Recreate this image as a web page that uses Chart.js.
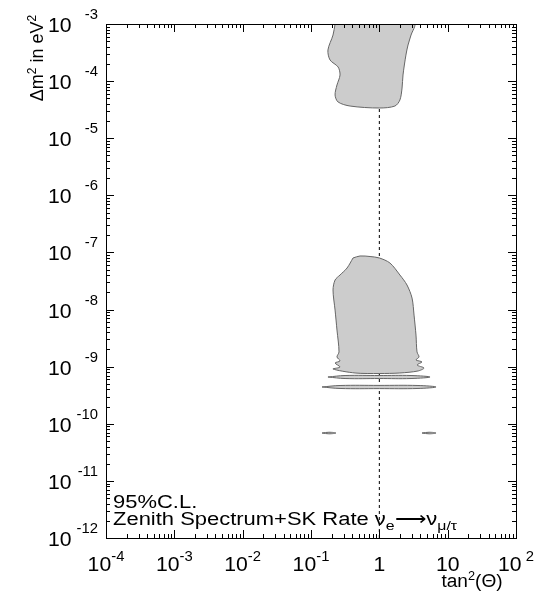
<!DOCTYPE html>
<html>
<head>
<meta charset="utf-8">
<script src="https://cdn.jsdelivr.net/npm/chart.js@4.4.1/dist/chart.umd.min.js"></script>
<style>
  body { margin: 0; background: #fff; }
  canvas { display: block; }
</style>
</head>
<body>
<canvas id="chart" width="542" height="601"></canvas>
<script>
// Axis ranges and tick labels
const xMin = 1e-4, xMax = 1e2;
const yMin = 1e-12, yMax = 1e-3;
const xTickValues = [1e-4, 1e-3, 1e-2, 1e-1, 1, 10, 100];
const xTickBase = ['10', '10', '10', '10', '1', '10', '10'];
const xTickSup = ['-4', '-3', '-2', '-1', '', '', ' 2'];
const yTickValues = [1e-3, 1e-4, 1e-5, 1e-6, 1e-7, 1e-8, 1e-9, 1e-10, 1e-11, 1e-12];
const yTickSup = ['-3', '-4', '-5', '-6', '-7', '-8', '-9', '-10', '-11', '-12'];

// Contours (tan^2 theta, delta m^2)
const upperX = [0.225, 0.210, 0.177, 0.190, 0.249, 0.266, 0.240, 0.225, 0.249, 0.373, 1.00, 1.69, 2.00, 2.15, 2.22, 2.45, 2.63, 2.91, 3.22, 0.225];
const upperY = [1e-3, 6.41e-4, 3.51e-4, 2.34e-4, 1.77e-4, 1.28e-4, 8.55e-5, 5.71e-5, 4.31e-5, 3.66e-5, 3.38e-5, 3.66e-5, 4.67e-5, 7.57e-5, 1.28e-4, 2.86e-4, 4.29e-4, 6.41e-4, 1e-3, 1e-3];

const lowerX = [0.412, 0.522, 0.731, 1.00, 1.43, 2.00, 2.54, 3.01, 3.22, 3.44, 3.56, 3.81, 3.44, 4.21, 3.56, 4.51, 3.68, 2.00, 1.00, 0.441, 0.210, 0.266, 0.225, 0.266, 0.240, 0.257, 0.240, 0.225, 0.210, 0.225, 0.266, 0.337, 0.412];
const lowerY = [8.0e-8, 8.67e-8, 8.49e-8, 8.0e-8, 6.53e-8, 4.03e-8, 2.69e-8, 1.59e-8, 8.0e-9, 3.58e-9, 1.81e-9, 1.48e-9, 1.31e-9, 1.21e-9, 1.07e-9, 9.48e-10, 8.4e-10, 7.75e-10, 7.59e-10, 7.75e-10, 9.1e-10, 9.86e-10, 1.16e-9, 1.26e-9, 1.48e-9, 1.81e-9, 4.38e-9, 9.8e-9, 2.2e-8, 3.29e-8, 4.03e-8, 5.34e-8, 8.0e-8];

const band1X = [0.177, 0.315, 1.00, 2.91, 5.52, 2.91, 1.00, 0.315, 0.177];
const band1Y = [6.59e-10, 7.0e-10, 7.0e-10, 7.0e-10, 6.59e-10, 6.2e-10, 6.2e-10, 6.2e-10, 6.59e-10];

const band2X = [0.145, 0.266, 1.00, 3.68, 6.76, 3.68, 1.00, 0.266, 0.145];
const band2Y = [4.41e-10, 4.68e-10, 4.7e-10, 4.68e-10, 4.41e-10, 4.15e-10, 4.13e-10, 4.15e-10, 4.41e-10];

const islandLeftX = [0.145, 0.183, 0.232, 0.183, 0.145];
const islandLeftY = [6.89e-11, 7.11e-11, 6.89e-11, 6.67e-11, 6.89e-11];
const islandRightX = [4.21, 5.34, 6.76, 5.34, 4.21];
const islandRightY = [6.89e-11, 7.11e-11, 6.89e-11, 6.67e-11, 6.89e-11];

// Maximal mixing line
const maxMixX = [1, 1];
const maxMixY = [1e-12, 1e-3];

const FONT = '"Liberation Sans", Arial, Helvetica, sans-serif';

function toPoints(xs, ys) {
    return xs.map((x, i) => ({x: x, y: ys[i]}));
}

function contour(xs, ys, tension) {
    return {
        data: toPoints(xs, ys),
        showLine: true,
        fill: 'shape',
        backgroundColor: '#cccccc',
        borderColor: '#666666',
        borderWidth: 1,
        pointRadius: 0,
        tension: tension
    };
}

// draw a row of text pieces [text, size, dy], stretched a bit sideways like the original
function drawRuns(ctx, runs, x, y, align, sx) {
    ctx.save();
    ctx.translate(x, y);
    ctx.scale(sx, 1);
    ctx.textAlign = 'left';
    ctx.textBaseline = 'alphabetic';
    ctx.fillStyle = '#000';
    let w = 0;
    runs.forEach(r => { ctx.font = r[1] + 'px ' + FONT; w += ctx.measureText(r[0]).width; });
    let cx = align === 'center' ? -w / 2 : (align === 'right' ? -w : 0);
    runs.forEach(r => {
        ctx.font = r[1] + 'px ' + FONT;
        ctx.fillText(r[0], cx, r[2]);
        cx += ctx.measureText(r[0]).width;
    });
    ctx.restore();
}

const framePlugin = {
    id: 'frame',
    afterDraw(chart) {
        const ctx = chart.ctx;
        const a = chart.chartArea;
        const xs = chart.scales.x, ys = chart.scales.y;
        ctx.save();
        ctx.strokeStyle = '#000';
        ctx.lineWidth = 1;
        ctx.strokeRect(a.left + 0.5, a.top + 0.5, a.right - a.left, a.bottom - a.top);

        // inward ticks
        ctx.beginPath();
        for (let d = -4; d < 2; d++) {
            for (let k = 1; k < 10; k++) {
                const px = Math.round(xs.getPixelForValue(k * Math.pow(10, d))) + 0.5;
                const len = k === 1 ? 8 : 4;
                ctx.moveTo(px, a.bottom); ctx.lineTo(px, a.bottom - len);
                ctx.moveTo(px, a.top); ctx.lineTo(px, a.top + len);
            }
        }
        for (let d = -12; d < -3; d++) {
            for (let k = 1; k < 10; k++) {
                const py = Math.round(ys.getPixelForValue(k * Math.pow(10, d))) + 0.5;
                const len = k === 1 ? 8 : 4;
                ctx.moveTo(a.left, py); ctx.lineTo(a.left + len, py);
                ctx.moveTo(a.right, py); ctx.lineTo(a.right - len, py);
            }
        }
        ctx.stroke();
        ctx.restore();

        // tick labels
        xTickValues.forEach((v, i) => {
            const px = xs.getPixelForValue(v);
            const runs = [[xTickBase[i], 20, 0]];
            if (xTickSup[i]) runs.push([xTickSup[i], 14, -10]);
            drawRuns(ctx, runs, px, a.bottom + 33, 'center', 1.06);
        });
        yTickValues.forEach((v, i) => {
            const py = ys.getPixelForValue(v);
            drawRuns(ctx, [['10', 20, 0]], 48, py + 8, 'left', 1.06);
            drawRuns(ctx, [[yTickSup[i], 14, 0]], 98, py - 5, 'right', 1.06);
        });

        // axis titles
        drawRuns(ctx, [['tan', 18, 0], ['2', 12, -7], ['(\u0398)', 18, 0]], 472, 587, 'center', 1.06);
        ctx.save();
        ctx.translate(43, 58);
        ctx.rotate(-Math.PI / 2);
        drawRuns(ctx, [['\u0394m', 18, 0], ['2', 12, -7], [' in eV', 18, 0], ['2', 12, -7]], 0, 0, 'center', 1.0);
        ctx.restore();

        // annotation
        drawRuns(ctx, [['95%C.L.', 18, 0]], 113, 508, 'left', 1.22);
        drawRuns(ctx, [['Zenith Spectrum+SK Rate ', 18, 0], ['\u03bd', 18, 0], ['e', 13, 5], ['\u27f6', 18, 0], ['\u03bd', 18, 0], ['\u03bc/\u03c4', 13, 5]], 113, 525, 'left', 1.22);
    }
};

const ctx = document.getElementById('chart').getContext('2d');
const chart = new Chart(ctx, {
    type: 'scatter',
    data: {
        datasets: [
            contour(upperX, upperY, 0.3),
            contour(lowerX, lowerY, 0.3),
            contour(band2X, band2Y, 0.4),
            contour(band1X, band1Y, 0.4),
            contour(islandLeftX, islandLeftY, 0.4),
            contour(islandRightX, islandRightY, 0.4),
            {
                data: toPoints(maxMixX, maxMixY),
                showLine: true,
                borderColor: '#000',
                borderWidth: 1,
                borderDash: [3, 3],
                pointRadius: 0,
                fill: false
            }
        ]
    },
    options: {
        responsive: false,
        animation: false,
        layout: { padding: { left: 106, top: 24, right: 26, bottom: 63 } },
        scales: {
            x: { type: 'logarithmic', min: xMin, max: xMax, display: false },
            y: { type: 'logarithmic', min: yMin, max: yMax, display: false }
        },
        plugins: {
            legend: { display: false },
            tooltip: { enabled: false }
        }
    },
    plugins: [framePlugin]
});
</script>
</body>
</html>
